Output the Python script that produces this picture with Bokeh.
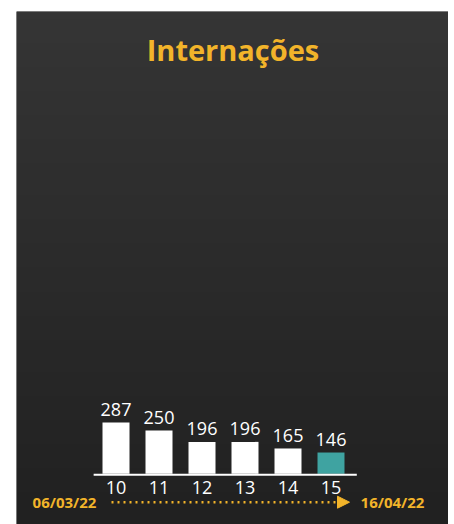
import numpy as np
from bokeh.plotting import figure
from bokeh.models import Range1d, Label, Arrow, NormalHead
from bokeh.core.properties import value
from bokeh.embed import file_html
from bokeh.resources import INLINE

# ---- data ----
weeks = [10, 11, 12, 13, 14, 15]
week_labels = ["10", "11", "12", "13", "14", "15"]
internacoes = [287, 250, 196, 196, 165, 146]
bar_colors = ["#ffffff", "#ffffff", "#ffffff", "#ffffff", "#ffffff", "#3fa3a1"]
title_text = "Internações"
date_start = "06/03/22"
date_end = "16/04/22"

ORANGE = "#f2b42a"
FONT = "Open Sans"
FW, FH = 432, 513          # frame size in px
PAD_L, PAD_T = 16, 11      # white strip left / top
base = 46                  # value at the baseline

PX_X = 43.0                # px per week
UPP = 4.699                # value units per px
BASE_FY = 462.3            # baseline px from frame top


def xd(fx):
    return x0 + fx / PX_X


def yd(fy):
    return base + (BASE_FY - fy) * UPP


x0 = weeks[0] - 99.5 / PX_X
x1 = x0 + FW / PX_X
y0 = yd(FH)
y1 = yd(0)

p = figure(width=FW + PAD_L, height=FH + PAD_T, output_backend="svg", toolbar_location=None,
           x_range=Range1d(x0, x1), y_range=Range1d(y0, y1),
           min_border=0, min_border_left=PAD_L, min_border_right=0,
           min_border_top=PAD_T, min_border_bottom=0,
           background_fill_color="#2c2c2c", border_fill_color="#ffffff",
           outline_line_color=None)
p.axis.visible = False
p.grid.visible = False

# background vertical gradient
n = 64
top_c = np.array([53, 53, 53])
bot_c = np.array([33, 33, 33])
img = np.empty((n, 1), dtype=np.uint32)
view = img.view(dtype=np.uint8).reshape((n, 1, 4))
for i in range(n):
    t = i / (n - 1)
    c = bot_c + (top_c - bot_c) * t
    view[i, 0, 0] = int(c[0]); view[i, 0, 1] = int(c[1]); view[i, 0, 2] = int(c[2]); view[i, 0, 3] = 255
p.image_rgba(image=[img], x=x0, y=y0, dw=x1 - x0, dh=y1 - y0)

# bars
p.vbar(x=weeks, top=internacoes, bottom=base, width=27 / PX_X,
       fill_color=bar_colors, line_color=None)

# baseline
p.line(x=[weeks[0] - 0.52, weeks[-1] + 0.6], y=[yd(463.3), yd(463.3)],
       line_color="#ffffff", line_width=2)

# value labels
p.text(x=weeks, y=internacoes, text=[str(v) for v in internacoes],
       text_align="center", text_baseline="alphabetic", y_offset=-13,
       text_color="#ffffff", text_font=value(FONT), text_font_size="18px")

# week labels
p.text(x=weeks, y=[base] * len(weeks), text=week_labels,
       text_align="center", text_baseline="alphabetic", y_offset=14,
       text_color="#ffffff", text_font=value(FONT), text_font_size="18px")

# title
p.add_layout(Label(x=xd(216.5), y=yd(37.5), text=title_text,
                   text_align="center", text_baseline="alphabetic",
                   text_color=ORANGE, text_font=FONT, text_font_style="bold",
                   text_font_size="29px"))

# dates
for txt, fx in [(date_start, 48), (date_end, 376)]:
    p.add_layout(Label(x=xd(fx), y=yd(490), text=txt,
                       text_align="center", text_baseline="alphabetic",
                       text_color=ORANGE, text_font=FONT, text_font_style="bold",
                       text_font_size="15px"))

# dotted arrow
p.add_layout(Arrow(x_start=xd(95), y_start=yd(490.7), x_end=xd(333), y_end=yd(490.7),
                   line_color=ORANGE, line_width=2.5, line_dash="2 4",
                   end=NormalHead(size=12, fill_color=ORANGE, line_color=ORANGE, line_width=1)))

open("out.html", "w").write(file_html(p, INLINE))
